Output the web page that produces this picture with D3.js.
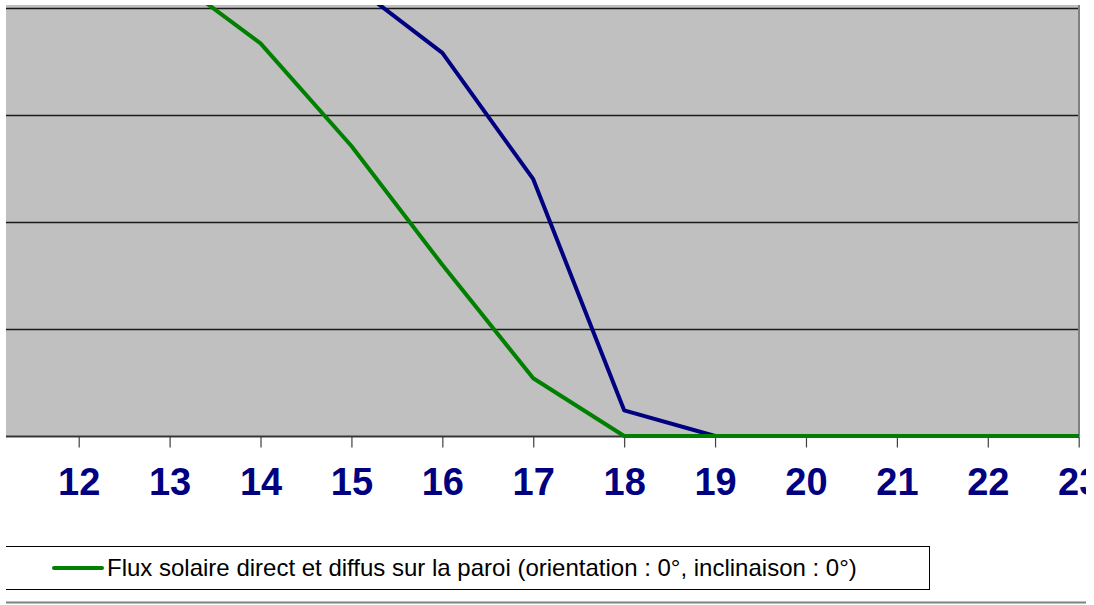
<!DOCTYPE html>
<html>
<head>
<meta charset="utf-8">
<script src="https://cdn.jsdelivr.net/npm/d3@7"></script>
<style>
	html, body { margin: 0; padding: 0; background: #fff; }
	svg { display: block; }
</style>
</head>
<body>
<div id="chart1"></div>
<script>
// hours shown on the category axis
var hours = [11, 12, 13, 14, 15, 16, 17, 18, 19, 20, 21, 22, 23];
var hour_labels = ['12', '13', '14', '15', '16', '17', '18', '19', '20', '21', '22', '23'];

// series values (W/m²)
var flux_direct_diffus = [520, 490, 430, 367, 271, 160, 54, 0, 0, 0, 0, 0, 0];
var flux_second = [560, 530, 500, 470, 423, 358, 240, 24, 0, 0, 0, 0, 0];

var grid_values = [0, 100, 200, 300, 400];
var legend_label = 'Flux solaire direct et diffus sur la paroi (orientation : 0°, inclinaison : 0°)';

(function (d3) {

	var width = 1094, height = 605;
	var plot_left = 6, plot_right = 1079, plot_top = 5, plot_bottom = 436;

	var svg = d3.select('#chart1').append('svg')
		.attr('width', width)
		.attr('height', height);

	// everything in the picture is cropped at the same box
	svg.append('clipPath').attr('id', 'crop')
		.append('rect').attr('x', 6).attr('y', 0).attr('width', 1080).attr('height', 605);
	svg.append('clipPath').attr('id', 'plot-clip')
		.append('rect').attr('x', plot_left).attr('y', plot_top)
		.attr('width', 1082 - plot_left).attr('height', plot_bottom - plot_top + 3);

	var root = svg.append('g').attr('clip-path', 'url(#crop)');

	var x = d3.scaleLinear().domain([12, 23]).range([78.7, 1078.7]);
	var y = d3.scaleLinear().domain([0, 400]).range([436, 8]);

	// plot area
	root.append('rect')
		.attr('x', plot_left).attr('y', plot_top)
		.attr('width', plot_right - plot_left).attr('height', plot_bottom - plot_top)
		.attr('fill', '#c0c0c0');

	// horizontal gridlines
	root.selectAll('.grid').data(grid_values).enter().append('line')
		.attr('class', 'grid')
		.attr('x1', plot_left).attr('x2', plot_right)
		.attr('y1', function(d) { return Math.round(y(d)) + 0.5; })
		.attr('y2', function(d) { return Math.round(y(d)) + 0.5; })
		.attr('stroke', '#1a1a1a').attr('stroke-width', 1.4);

	// right border of plot area
	root.append('line')
		.attr('x1', plot_right).attr('x2', plot_right)
		.attr('y1', plot_top).attr('y2', plot_bottom)
		.attr('stroke', '#808080').attr('stroke-width', 2);

	// category axis with ticks on the hours
	var x_axis = d3.axisBottom(x)
		.tickValues(hour_labels.map(Number))
		.tickSize(11)
		.tickFormat(function(d) { return d; });

	var axis_g = root.append('g')
		.attr('transform', 'translate(0,' + (plot_bottom + 0.5) + ')')
		.call(x_axis);
	axis_g.select('.domain').remove();
	axis_g.selectAll('.tick line').attr('stroke', '#404040').attr('stroke-width', 1.2);
	axis_g.selectAll('.tick text')
		.attr('y', 0).attr('dy', 0)
		.attr('transform', 'translate(0,58)')
		.attr('fill', '#000080')
		.style('font-family', 'Liberation Sans, Arial, sans-serif')
		.style('font-weight', 'bold')
		.style('font-size', '38px');

	root.append('line')
		.attr('x1', plot_left).attr('x2', plot_right)
		.attr('y1', plot_bottom + 0.5).attr('y2', plot_bottom + 0.5)
		.attr('stroke', '#333').attr('stroke-width', 1.4);

	var line = d3.line()
		.x(function(d) { return x(d[0]); })
		.y(function(d) { return y(d[1]); });

	var lines_g = root.append('g').attr('clip-path', 'url(#plot-clip)');

	lines_g.append('path')
		.datum(d3.zip(hours, flux_second))
		.attr('d', line)
		.attr('fill', 'none')
		.attr('stroke', '#000080')
		.attr('stroke-width', 4)
		.attr('stroke-linejoin', 'round');

	lines_g.append('path')
		.datum(d3.zip(hours, flux_direct_diffus))
		.attr('d', line)
		.attr('fill', 'none')
		.attr('stroke', '#008000')
		.attr('stroke-width', 4)
		.attr('stroke-linejoin', 'round');

	// legend box (left edge is cut off in the picture)
	var legend = root.append('g');
	legend.append('rect')
		.attr('x', -10).attr('y', 546.5)
		.attr('width', 939.5).attr('height', 43)
		.attr('fill', '#fff').attr('stroke', '#000').attr('stroke-width', 1);
	legend.append('line')
		.attr('x1', 54).attr('x2', 102)
		.attr('y1', 568).attr('y2', 568)
		.attr('stroke', '#008000').attr('stroke-width', 4)
		.attr('stroke-linecap', 'round');
	legend.append('text')
		.attr('x', 107).attr('y', 576)
		.attr('fill', '#000')
		.style('font-family', 'Liberation Sans, Arial, sans-serif')
		.style('font-size', '24px')
		.text(legend_label);

	// bottom chart border
	root.append('line')
		.attr('x1', 0).attr('x2', 1086)
		.attr('y1', 602.5).attr('y2', 602.5)
		.attr('stroke', '#808080').attr('stroke-width', 2);

}(d3));
</script>
</body>
</html>
